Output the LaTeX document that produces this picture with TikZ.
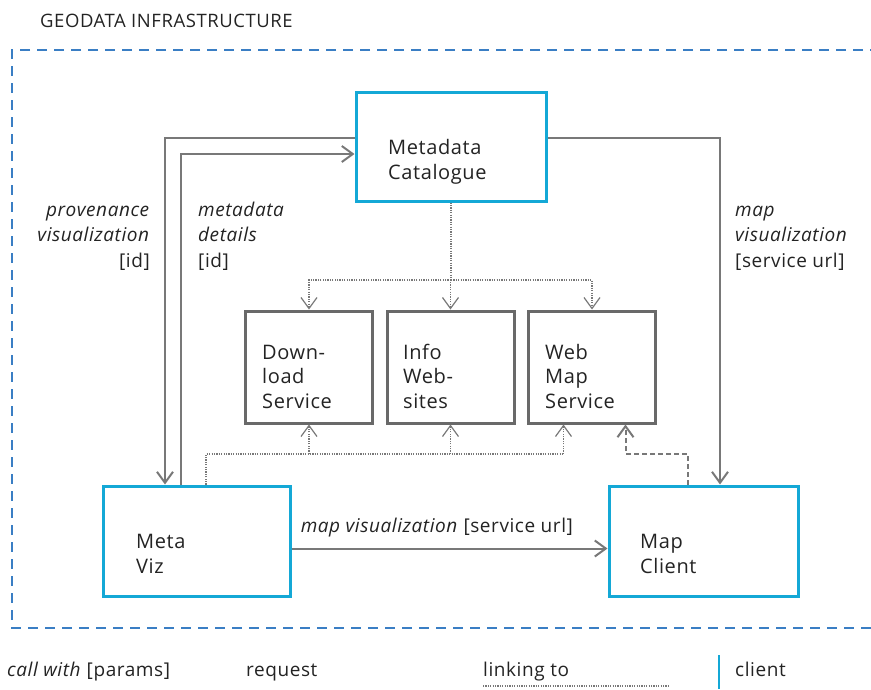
\documentclass[tikz,border=0pt]{standalone}
\usepackage{fontspec}
\setmainfont{Open Sans}[LetterSpace=3]
\usetikzlibrary{arrows.meta, positioning, calc}
\definecolor{cyanbox}{RGB}{20,168,214}
\definecolor{frameblue}{RGB}{58,126,196}
\definecolor{boxgray}{RGB}{105,105,105}
\definecolor{linegray}{RGB}{120,120,120}
\definecolor{txt}{RGB}{35,35,35}
\tikzstyle{clientbox} = [rectangle, draw=cyanbox, line width=3pt, inner sep=0pt]
\tikzstyle{servicebox} = [rectangle, draw=boxgray, line width=3pt, minimum width=127pt, minimum height=112pt, inner sep=0pt]
\tikzstyle{boxtext} = [anchor=base west, align=left, inner sep=0pt, text=txt, font=\fontsize{20}{24.5}\selectfont]
\tikzstyle{lbl} = [inner sep=0pt, text=txt, font=\fontsize{19}{25.5}\selectfont]
\tikzstyle{arrow} = [draw=linegray, line width=2pt, -{Straight Barb[length=11pt,width=16pt]}]
\tikzstyle{dotline} = [draw=linegray, line width=1.5pt, dash pattern=on 1.2pt off 1.2pt]
\tikzstyle{dotarrow} = [dotline, -{Straight Barb[length=11pt,width=16pt,line width=1.2pt]}]
\tikzstyle{dasharrow} = [draw=linegray, line width=2pt, dash pattern=on 5pt off 3pt, -{Straight Barb[length=11pt,width=16pt]}]

\begin{document}
\begin{tikzpicture}[x=1pt, y=-1pt]
\useasboundingbox (0,0) rectangle (871,689);

% Frame
\node (title) [lbl, anchor=base west, font=\fontsize{18.5}{20}\selectfont] at (40,27) {GEODATA INFRASTRUCTURE};
\draw [frameblue, line width=2pt, dash pattern=on 10pt off 7pt] (880,50) -- (12,50) -- (12,628) -- (880,628);

% Nodes
\node (cat) [clientbox, minimum width=190pt, minimum height=109pt] at (451,146.5) {};
\node (info) [servicebox] at (450.5,367) {};
\node (dl) [servicebox, left=11.5pt of info] {};
\node (wms) [servicebox, right=11.5pt of info] {};
\node (viz) [clientbox, minimum width=187pt, minimum height=110pt] at (196.5,541) {};
\node (client) [clientbox, minimum width=189pt, minimum height=110pt, right=316pt of viz] {};

% (base = last line)
\node (cat-t) [boxtext] at (388,179) {Metadata\\Catalogue};
\node (dl-t) [boxtext] at (262,408) {Down-\\load\\Service};
\node (info-t) [boxtext] at (403,408) {Info\\Web-\\sites};
\node (wms-t) [boxtext] at (545,408) {Web\\Map\\Service};
\node (viz-t) [boxtext] at (136,573) {Meta\\Viz};
\node (client-t) [boxtext] at (640,573) {Map\\Client};

% Labels
\node (prov) [lbl, anchor=base east, align=right] at (150,267) {\textit{provenance}\\\textit{visualization}\\{[id]}};
\node (details) [lbl, anchor=base west, align=left] at (198,267) {\textit{metadata}\\\textit{details}\\{[id]}};
\node (mapvis) [lbl, anchor=base west, align=left] at (735,267) {\textit{map}\\\textit{visualization}\\{[service url]}};

% Arrows
\draw [arrow] ([yshift=8.5pt]cat.west) -| ([xshift=-31.5pt]viz.north);
\draw [arrow] ([xshift=-15.5pt]viz.north) |- ([yshift=-7.5pt]cat.west);
\draw [arrow] ([yshift=8.5pt]cat.east) -| ([xshift=16.5pt]client.north);
\draw [arrow] ([yshift=-7.5pt]viz.east) -- node[lbl, above=10pt, pos=0.46] {\textit{map visualization} [service url]} ([yshift=-7.5pt]client.west);

% Linking
\coordinate (bus1) at (0,280);
\coordinate (bus2) at (0,454);
\coordinate (split) at (cat.south |- bus1);
\draw [dotline] (cat.south) -- (split);
\draw [dotarrow] (split) -| (dl.north);
\draw [dotarrow] (split) -| (info.north);
\draw [dotarrow] (split) -| (wms.north);

\coordinate (wms-in) at ([xshift=-28.5pt]wms.south);
\draw [dotline] ([xshift=9.5pt]viz.north) |- (wms-in |- bus2);
\draw [dotarrow] (wms-in |- bus2) -- (wms-in);
\draw [dotarrow] (dl.south |- bus2) -- (dl.south);
\draw [dotarrow] (info.south |- bus2) -- (info.south);

% Request
\coordinate (wms-req) at ([xshift=33.5pt]wms.south);
\draw [dasharrow] ([xshift=-15.5pt]client.north) |- (wms-req |- bus2) -- (wms-req);

% Legend
\node (leg-call) [lbl, anchor=base west] at (7,676) {\textit{call with} [params]};
\node (leg-req) [lbl, anchor=base west] at (246,676) {request};
\node (leg-link) [lbl, anchor=base west] at (483,676) {linking to};
\draw [dotline] ([yshift=-10pt]leg-link.base west) -- ++(186,0);
\node (leg-client) [lbl, anchor=base west] at (735,676) {client};
\draw [draw=cyanbox, line width=2pt] ([xshift=-16pt,yshift=21pt]leg-client.base west) -- ++(0,34);

\end{tikzpicture}
\end{document}
